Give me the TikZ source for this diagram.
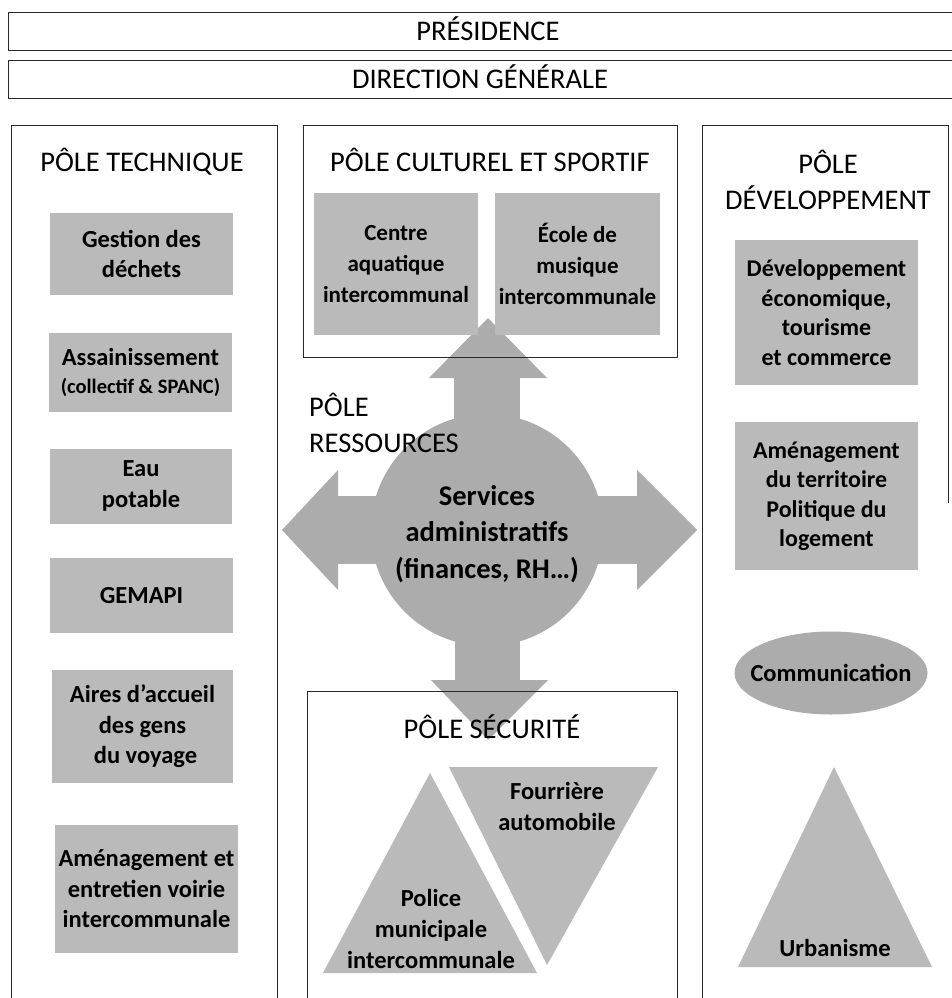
\documentclass[tikz,border=0pt]{standalone}
\usepackage{fontspec}
\setmainfont{Carlito}
\usetikzlibrary{shapes.geometric}
\definecolor{boxgray}{RGB}{186,186,186}
\definecolor{arrowgray}{RGB}{172,172,172}
\definecolor{ellgray}{RGB}{172,172,172}
\definecolor{linegray}{RGB}{40,40,40}
\begin{document}
\begin{tikzpicture}[x=1pt,y=-1pt,
  frame/.style={draw=linegray, line width=0.9pt},
  title/.style={font=\fontsize{28.5}{36}\selectfont, align=center, inner sep=0pt, text=black},
  gbox/.style={fill=boxgray, draw=none, inner sep=0pt, align=center, text=black,
               font=\fontsize{24.5}{30.5}\selectfont\bfseries},
  cbox/.style={gbox, font=\fontsize{23}{31}\selectfont\bfseries},
  rbox/.style={gbox, font=\fontsize{24}{29.5}\selectfont\bfseries},
  lbl/.style={inner sep=0pt, align=center, text=black, font=\fontsize{24.5}{31}\selectfont\bfseries},
  biglbl/.style={inner sep=0pt, align=center, text=black, font=\fontsize{28.5}{36.5}\selectfont\bfseries}
]
\useasboundingbox (0,0) rectangle (952,998);
\fill[white] (0,0) rectangle (952,998);
\clip (0,0) rectangle (952,998);

% ---------- central quad arrow (Pole ressources) ----------
\fill[arrowgray] (487,530) circle[radius=116];
% up
\fill[arrowgray] (454,378) rectangle (520,530);
\fill[arrowgray] (429,378) -- (488,318) -- (547,378) -- cycle;
% down
\fill[arrowgray] (455,530) rectangle (520,680);
\fill[arrowgray] (431,680) -- (488,740) -- (548,680) -- cycle;
% left
\fill[arrowgray] (338,496) rectangle (487,564);
\fill[arrowgray] (338,470) -- (282,530) -- (338,590) -- cycle;
% right
\fill[arrowgray] (487,496) rectangle (637,564);
\fill[arrowgray] (637,470) -- (697,530) -- (637,590) -- cycle;

% ---------- top boxes ----------
\draw[frame] (8,12) rectangle (975,50);
\node[title, anchor=base] (pres) at (488,40.5) {PRÉSIDENCE};
\draw[frame] (8,60) rectangle (975,98);
\node[title, anchor=base] (dg) at (480,88.5) {DIRECTION GÉNÉRALE};

% ---------- column frames ----------
\draw[frame] (11,1010) -- (11,125) -- (277,125) -- (277,1010);
\draw[frame] (303,125) rectangle (677,357);
\draw[frame] (307,1010) -- (307,691) -- (677,691) -- (677,1010);
\draw[frame] (702,1010) -- (702,125) -- (948,125) -- (948,503);

% ---------- Pole technique ----------
\node[title, anchor=base] (ptech) at (142,171.5) {PÔLE TECHNIQUE};
\node[gbox, minimum width=183pt, minimum height=82pt] (dechets) at (141.5,254) {Gestion des\\déchets};
\node[gbox, minimum width=183pt, minimum height=79pt] (assain) at (140.5,372.5)
  {Assainissement\\[-2pt]{\fontsize{20.5}{25}\selectfont (collectif \& SPANC)}};
\node[gbox, minimum width=182pt, minimum height=75pt] (eau) at (141,486) {Eau\\potable};
\node[gbox, minimum width=183pt, minimum height=75pt] (gemapi) at (141.5,595.5) {GEMAPI};
\node[gbox, minimum width=181pt, minimum height=113pt] (aires) at (142.5,726.5) {Aires d’accueil\\des gens\\\hspace*{6pt}du voyage};
\node[gbox, minimum width=183pt, minimum height=128pt] (voirie) at (146.5,889) {Aménagement et\\entretien voirie\\intercommunale};

% ---------- Pole culturel et sportif ----------
\node[title, anchor=base] (pcult) at (490,171.5) {PÔLE CULTUREL ET SPORTIF};
\node[cbox, minimum width=164pt, minimum height=142pt] (aqua) at (396,264) {Centre\\aquatique\\intercommunal};
\node[cbox, minimum width=165pt, minimum height=142pt] (musique) at (577.5,264) {École de\\musique\\intercommunale};

% ---------- Pole ressources ----------
\node[title, anchor=north west, align=left] (pres2) at (309,393) {PÔLE\\RESSOURCES};
\node[biglbl] (services) at (487,534) {Services\\administratifs\\(finances, RH…)};

% ---------- Pole securite ----------
\node[title, anchor=base] (psecu) at (492,738.5) {PÔLE SÉCURITÉ};
\fill[boxgray] (323,973) -- (430,773) -- (537,973) -- cycle;
\fill[boxgray] (449,767) -- (658,767) -- (547,965) -- cycle;
\node[lbl] (police) at (431,929) {Police\\municipale\\intercommunale};
\node[lbl] (fourriere) at (557,806) {Fourrière\\automobile};

% ---------- Pole developpement ----------
\node[title] (pdev) at (828,180) {PÔLE\\DÉVELOPPEMENT};
\node[rbox, minimum width=183pt, minimum height=145pt] (eco) at (826.5,312.5) {Développement\\économique,\\tourisme\\et commerce};
\node[rbox, minimum width=183pt, minimum height=148pt] (amenag) at (826.5,496) {Aménagement\\du territoire\\Politique du\\logement};
\node[ellipse, fill=ellgray, minimum width=193pt, minimum height=83pt, inner sep=0pt] (comm) at (831,673) {};
\node[lbl] (commtxt) at (comm.center) {Communication};
\fill[boxgray] (738,967) -- (834,767) -- (932,967) -- cycle;
\node[lbl, anchor=base] (urba) at (835,956) {Urbanisme};
\end{tikzpicture}
\end{document}
